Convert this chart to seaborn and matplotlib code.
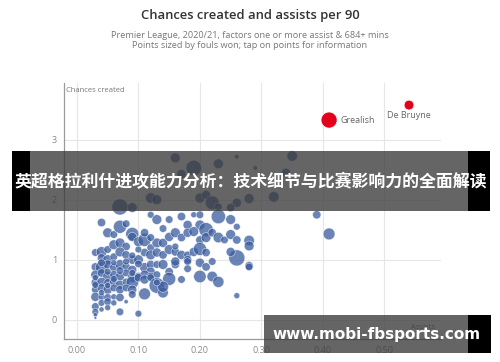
import matplotlib
matplotlib.use("Agg")
import matplotlib.pyplot as plt
import seaborn as sns
import pandas as pd
from matplotlib.patches import Rectangle

# assists per 90, chances created per 90, fouls won (point size)
assists = [
    0.16, 0.19, 0.17, 0.23, 0.26, 0.29, 0.35, 0.34, 0.12, 0.13, 0.20, 0.21, 0.22, 0.26, 0.28, 0.32,
    0.07, 0.09, 0.25, 0.23, 0.39, 0.41, 0.28, 0.28, 0.28, 0.26, 0.26, 0.28,
    0.04, 0.05, 0.06, 0.07, 0.08, 0.09, 0.12, 0.13, 0.15, 0.17, 0.18, 0.19, 0.20, 0.20, 0.21, 0.23,
    0.25, 0.26,
    0.03, 0.04, 0.05, 0.06, 0.07, 0.08, 0.09, 0.10, 0.11, 0.12, 0.13, 0.14, 0.15, 0.16, 0.17, 0.18,
    0.19, 0.20, 0.21, 0.22, 0.23, 0.24, 0.25, 0.26,
    0.04, 0.05, 0.06, 0.07, 0.08, 0.09, 0.10, 0.11, 0.12, 0.13, 0.14, 0.15, 0.16, 0.17, 0.18, 0.19,
    0.20, 0.21, 0.25,
    0.03, 0.04, 0.05, 0.06, 0.07, 0.08, 0.09, 0.11, 0.12, 0.12, 0.13, 0.14, 0.16, 0.16, 0.18, 0.18,
    0.20, 0.21, 0.22,
    0.03, 0.04, 0.05, 0.06, 0.07, 0.08, 0.09, 0.10, 0.11, 0.12, 0.13, 0.15, 0.15, 0.17, 0.20, 0.22,
    0.23,
    0.03, 0.04, 0.05, 0.06, 0.07, 0.08, 0.09, 0.10, 0.11, 0.12, 0.13, 0.14, 0.14,
    0.03, 0.04, 0.05, 0.06, 0.07, 0.08, 0.09,
    0.03, 0.04, 0.05, 0.06, 0.07, 0.08, 0.09, 0.11,
    0.03, 0.04, 0.05, 0.06, 0.07, 0.03, 0.04, 0.05, 0.03, 0.03, 0.10,
    0.03, 0.03, 0.04, 0.05, 0.06, 0.08, 0.09, 0.10, 0.10, 0.12, 0.11, 0.14, 0.16, 0.13, 0.09, 0.07,
    0.06, 0.05, 0.04, 0.18,
]
chances = [
    2.70, 2.53, 2.43, 2.60, 2.72, 2.53, 2.73, 2.45, 2.03, 2.00, 2.03, 2.08, 1.95, 1.95, 2.02, 2.05,
    1.88, 1.87, 1.87, 1.88, 1.75, 1.43, 1.32, 1.23, 0.90, 0.40, 1.03, 0.88,
    1.62, 1.45, 1.42, 1.55, 1.60, 1.43, 1.75, 1.67, 1.67, 1.72, 1.58, 1.75, 1.75, 1.58, 1.50, 1.72,
    1.67, 1.55,
    1.12, 1.13, 1.17, 1.25, 1.28, 1.22, 1.38, 1.30, 1.33, 1.20, 1.28, 1.28, 1.38, 1.45, 1.37, 1.45,
    1.47, 1.33, 1.37, 1.45, 1.37, 1.33, 1.42, 1.33,
    1.03, 1.00, 1.05, 1.13, 1.08, 1.00, 1.00, 1.12, 1.08, 1.12, 1.08, 1.17, 1.13, 1.08, 1.08, 1.13,
    1.18, 1.12, 1.13,
    0.88, 0.87, 0.92, 0.87, 0.92, 0.88, 0.83, 0.87, 0.92, 0.80, 0.92, 0.92, 0.92, 0.97, 1.00, 0.97,
    0.95, 0.88, 0.97,
    0.75, 0.78, 0.72, 0.75, 0.72, 0.78, 0.70, 0.72, 0.75, 0.72, 0.75, 0.80, 0.68, 0.67, 0.72, 0.72,
    0.63,
    0.62, 0.63, 0.62, 0.63, 0.58, 0.63, 0.62, 0.70, 0.67, 0.70, 0.57, 0.45, 0.55,
    0.50, 0.53, 0.50, 0.53, 0.50, 0.53, 0.50,
    0.38, 0.38, 0.37, 0.38, 0.37, 0.30, 0.42, 0.43,
    0.22, 0.28, 0.30, 0.28, 0.13, 0.13, 0.17, 0.20, 0.08, 0.03, 0.10,
    0.70, 0.58, 0.45, 0.80, 0.95, 0.97, 1.07, 0.93, 1.17, 1.37, 1.45, 1.52, 1.22, 0.62, 0.78, 0.82,
    0.68, 0.57, 0.95, 0.85,
]
fouls = [
    1.3, 2.2, 1.2, 1.3, 0.6, 0.6, 1.4, 1.2, 1.4, 1.3, 1.3, 1.2, 1.9, 1.2, 1.3, 1.4,
    2.3, 1.3, 1.1, 1.0, 1.1, 1.6, 1.4, 1.3, 1.1, 0.8, 2.3, 1.0,
    1.1, 1.3, 1.0, 1.8, 1.0, 1.8, 0.9, 1.3, 1.0, 1.1, 1.2, 0.8, 1.0, 1.3, 2.0, 2.0,
    1.3, 0.9,
    1.0, 1.4, 1.0, 1.3, 1.3, 1.1, 1.2, 1.3, 1.8, 1.0, 1.3, 1.2, 1.2, 1.3, 1.1, 1.2,
    1.3, 1.1, 1.3, 1.1, 1.4, 1.0, 1.3, 1.1,
    1.1, 1.3, 1.0, 1.3, 1.1, 1.2, 1.3, 1.1, 1.3, 1.2, 1.1, 1.3, 1.1, 1.2, 1.0, 1.2,
    1.8, 1.1, 1.2,
    1.1, 1.7, 1.2, 1.1, 1.3, 1.1, 1.2, 1.3, 1.1, 1.2, 1.0, 1.3, 1.1, 1.2, 1.1, 1.0,
    1.2, 1.1, 1.0,
    1.2, 1.1, 1.3, 1.1, 1.2, 1.0, 1.3, 1.1, 1.2, 1.1, 1.0, 1.1, 1.8, 1.0, 1.7, 1.4,
    1.5,
    1.1, 1.2, 1.0, 1.1, 1.2, 1.0, 1.7, 1.1, 1.2, 1.0, 2.2, 1.4, 1.5,
    1.0, 1.1, 1.2, 1.0, 1.1, 1.0, 1.2,
    1.2, 0.9, 1.0, 0.8, 1.1, 0.6, 1.0, 1.6,
    1.0, 0.9, 1.0, 0.8, 1.0, 0.9, 0.7, 0.8, 0.6, 0.4, 0.9,
    0.8, 0.9, 0.8, 0.9, 0.8, 0.9, 0.9, 1.0, 0.9, 1.0, 1.1, 1.0, 0.9, 0.9, 0.9, 1.0,
    0.9, 0.8, 1.0, 1.0,
]

star_names = ["Grealish", "De Bruyne"]
star_assists = [0.41, 0.54]
star_chances = [3.33, 3.58]
star_fouls = [2.3, 1.3]

x_ticks = [0.0, 0.1, 0.2, 0.3, 0.4, 0.5]
y_ticks = [0, 1, 2, 3]

df = pd.DataFrame({"Assists": assists, "Chances": chances, "Fouls": fouls})
stars = pd.DataFrame({"Assists": star_assists, "Chances": star_chances,
                      "Fouls": star_fouls, "Name": star_names})

# marker area grows a bit faster than linear with fouls won
levels = sorted(set(fouls) | set(star_fouls))
size_map = {f: 4 + 130 * ((f - 0.4) / 1.9) ** 1.4 for f in levels}

sns.set_style("white")
plt.rcParams["font.family"] = ["Open Sans", "DejaVu Sans"]

fig = plt.figure(figsize=(5, 3.62), dpi=100)
ax = fig.add_axes([0.128, 0.064, 0.754, 0.707])

sns.scatterplot(data=df, x="Assists", y="Chances", size="Fouls", sizes=size_map,
                color="#3a5b9e", alpha=0.75, edgecolor="white",
                linewidth=0.4, legend=False, ax=ax, zorder=3)
sns.scatterplot(data=stars, x="Assists", y="Chances", size="Fouls", sizes=size_map,
                color="#e3001b", edgecolor="white", linewidth=0.5,
                legend=False, ax=ax, zorder=4)

for _, r in stars.iterrows():
    if r["Name"] == "Grealish":
        ax.text(r["Assists"] + 0.018, r["Chances"], r["Name"], fontsize=6.5,
                color="#666666", va="center", ha="left")
    else:
        ax.text(r["Assists"], r["Chances"] - 0.1, r["Name"], fontsize=6.5,
                color="#666666", va="top", ha="center")

ax.set_xlim(-0.021, 0.592)
ax.set_ylim(-0.32, 3.95)
ax.set_xticks(x_ticks)
ax.set_xticklabels([f"{t:.2f}" for t in x_ticks])
ax.set_yticks(y_ticks)
ax.grid(True, color="#e6e6e6", linewidth=0.8)
ax.set_axisbelow(True)
ax.tick_params(labelsize=6.5, colors="#8a8a8a", length=0, pad=5)
for side in ["top", "right"]:
    ax.spines[side].set_visible(False)
for side in ["left", "bottom"]:
    ax.spines[side].set_color("#9a9a9a")
    ax.spines[side].set_linewidth(0.9)
ax.set_xlabel("")
ax.set_ylabel("")
ax.text(0.005, 0.985, "Chances created", transform=ax.transAxes, fontsize=5.5,
        color="#777777", va="top", ha="left")
ax.text(0.985, 0.03, "Assists", transform=ax.transAxes, fontsize=5.5,
        color="#777777", va="bottom", ha="right")

fig.text(0.5, 0.958, "Chances created and assists per 90", ha="center", va="center",
         fontsize=9.4, color="#333333", fontweight="semibold")
fig.text(0.5, 0.888, "Premier League, 2020/21, factors one or more assist & 684+ mins\n"
         "Points sized by fouls won; tap on points for information",
         ha="center", va="center", fontsize=6.6, color="#777777", linespacing=1.25)

# overlay banners
W, H = 500, 362
def rect(x0, y0, x1, y1, color, alpha=1.0):
    fig.patches.append(Rectangle((x0 / W, 1 - y1 / H), (x1 - x0) / W, (y1 - y0) / H,
                                 transform=fig.transFigure, color=color, alpha=alpha,
                                 zorder=10, linewidth=0))

rect(30, 151, 468, 211, "#3a3a3a", 0.78)
rect(12, 151, 30, 211, "black")
rect(468, 151, 490, 211, "black")
rect(264, 315, 468, 353, "#3a3a3a", 0.78)
rect(468, 315, 491, 353, "black")

fig.text(251 / W, 1 - 182 / H, "英超格拉利什进攻能力分析：技术细节与比赛影响力的全面解读",
         ha="center", va="center", fontsize=12.2, color="white", fontweight="bold",
         family=["Noto Sans CJK SC", "DejaVu Sans"], zorder=11)
fig.text(377 / W, 1 - 335 / H, "www.mobi-fbsports.com", ha="center", va="center",
         fontsize=11, color="white", fontweight="bold",
         family=["DejaVu Sans"], zorder=11)

fig.savefig("out.png", dpi=100)
